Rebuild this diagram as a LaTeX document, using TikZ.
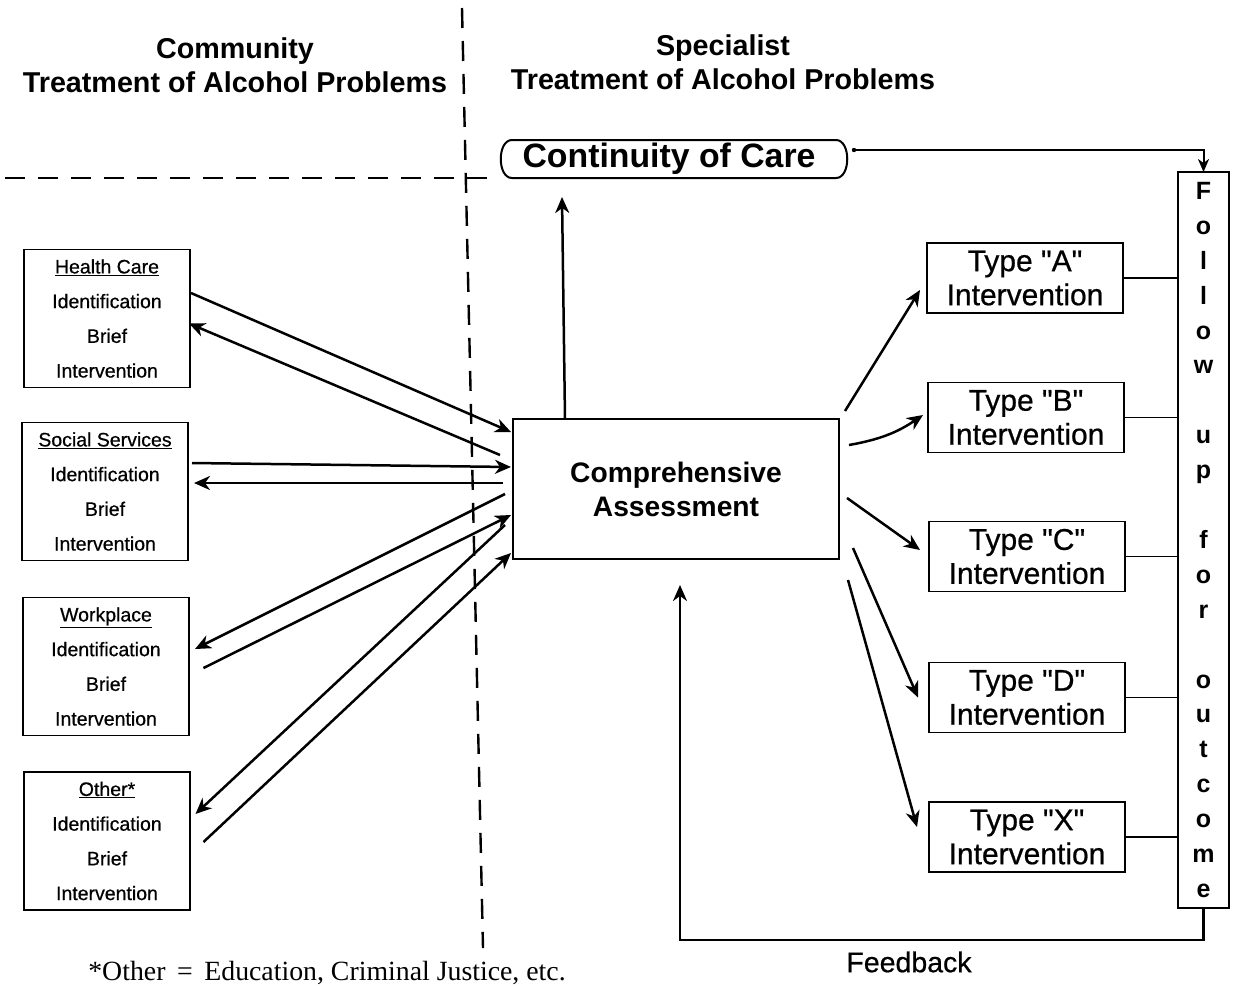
\documentclass[tikz,border=0pt]{standalone}
\usepackage{fontspec}
\setmainfont{Liberation Sans}
\newfontfamily\inksans[FakeBold=0.6]{Liberation Sans}
\newfontfamily\noteserif{Liberation Serif}
\usetikzlibrary{arrows.meta,calc}

\newcommand{\qt}[1]{\symbol{34}#1\symbol{34}}

\begin{document}
\begin{tikzpicture}[x=1pt,y=-1pt,
  every node/.style={inner sep=0pt, outer sep=0pt},
  sourcebox/.style={draw, line width=1.4pt, minimum width=166pt, minimum height=138pt,
    align=center, font=\inksans\fontsize{19.5}{34.7}\selectfont},
  typebox/.style={draw, line width=1.4pt, minimum width=196pt, minimum height=70pt,
    align=center, font=\inksans\fontsize{30}{34}\selectfont},
  link/.style={line width=2.5pt, -{Stealth[length=16pt,width=14pt,inset=5pt]}},
  tie/.style={line width=1.4pt},
  divider/.style={line width=2.4pt, dash pattern=on 20pt off 13pt},
  header/.style={align=center, font=\bfseries\fontsize{28.7}{34}\selectfont}
]
\useasboundingbox (0,0) rectangle (1233,986);

% section headings and dividing lines
\node[header] (hleft) at (235,65) {Community\\Treatment of Alcohol Problems};
\node[header] (hright) at (723,62) {Specialist\\Treatment of Alcohol Problems};
\draw[divider] (462,8) -- (483,948);
\draw[divider] (5,178) -- (497,178);

% community services
\node[sourcebox] (hc) at (107,318.5) {\underline{Health Care}\\Identification\\Brief\\Intervention};
\node[sourcebox] (ss) at (105,491.5) {\underline{Social Services}\\Identification\\Brief\\Intervention};
\node[sourcebox] (wp) at (106,666.5) {\underline{Workplace}\\Identification\\Brief\\Intervention};
\node[sourcebox] (ot) at (107,841) {\underline{Other*}\\Identification\\Brief\\Intervention};

% assessment
\node[draw, line width=1.4pt, minimum width=326pt, minimum height=140pt, align=center,
  font=\bfseries\fontsize{28.2}{34}\selectfont] (ca) at (676,489) {Comprehensive\\Assessment};

% continuity of care
\node[minimum width=348pt, minimum height=38pt, font=\bfseries\fontsize{33.8}{40}\selectfont]
  (coc) at (674,159) {\hspace*{-10pt}Continuity of Care};
\draw[line width=2pt]
  ([xshift=12pt]coc.north west) -- ([xshift=-12pt]coc.north east)
  .. controls ([xshift=3pt]coc.north east) and ([xshift=3pt]coc.south east) ..
  ([xshift=-12pt]coc.south east) -- ([xshift=12pt]coc.south west)
  .. controls ([xshift=-3pt]coc.south west) and ([xshift=-3pt]coc.north west) ..
  cycle;

% interventions
\node[typebox] (ta) at (1025,278)   {Type \qt{A}\\Intervention};
\node[typebox] (tb) at (1026,417.5) {Type \qt{B}\\Intervention};
\node[typebox] (tc) at (1027,556.5) {Type \qt{C}\\Intervention};
\node[typebox] (td) at (1027,697.5) {Type \qt{D}\\Intervention};
\node[typebox] (tx) at (1027,837)   {Type \qt{X}\\Intervention};

% follow up column
\node[draw, line width=1.4pt, minimum width=51pt, minimum height=736pt, align=center,
  font=\bfseries\fontsize{25}{34.9}\selectfont] (fu) at (1203.5,540)
  {F\\o\\l\\l\\o\\w\\\strut\\u\\p\\\strut\\f\\o\\r\\\strut\\o\\u\\t\\c\\o\\m\\e};

% community <-> assessment
\draw[link] ($(hc.east)+(1,-25.5)$) -- ($(ca.west)+(-2,-57)$);
\draw[link] ($(ca.west)+(-13,-34)$) -- ($(hc.east)+(-1,5)$);
\draw[link] ($(ss.east)+(4,-28.5)$) -- ($(ca.west)+(-2,-22)$);
\draw[link] ($(ca.west)+(-10,-6)$) -- ($(ss.east)+(6,-8.5)$);
\draw[link] ($(ca.west)+(-8,5)$) -- ($(wp.east)+(6,-17.5)$);
\draw[link] ($(wp.east)+(14.5,1.5)$) -- ($(ca.west)+(-2,26)$);
\draw[link] ($(ca.west)+(-8,36)$) -- ($(ot.east)+(5.5,-27)$);
\draw[link] ($(ot.east)+(13.5,1)$) -- ($(ca.west)+(-2,64)$);

% assessment -> continuity
\coordinate (cocin) at (562,197);
\draw[link] ([xshift=-111pt]ca.north) -- (cocin);

% assessment -> interventions
\draw[link] ($(ca.east)+(6,-78)$) -- ($(ta.west)+(-7,12)$);
\draw[link] ($(ca.east)+(10,-44)$) to[bend right=12] ($(tb.west)+(-5,-2.5)$);
\draw[link] ($(ca.east)+(8,9)$) -- ($(tc.west)+(-9,-6.5)$);
\draw[link] ($(ca.east)+(14,59)$) -- ($(td.west)+(-11,0)$);
\draw[link] ($(ca.east)+(9,91)$) -- ($(tx.west)+(-12,-10)$);

% interventions -> follow up
\foreach \t in {ta,tb,tc,td,tx}
  \draw[tie] (\t.east) -- (\t.east -| fu.west);

% continuity -> follow up
\fill ([xshift=6pt,yshift=9pt]coc.east) circle (2.2pt);
\draw[line width=2pt, -{Stealth[length=13pt,width=11pt,inset=4pt]}]
  ([xshift=6pt,yshift=9pt]coc.east) -| (fu.north);

% feedback loop
\coordinate (fbtip) at (680,585);
\draw[link] (fu.south) -- ++(0,32) -| (fbtip);
\node[font=\inksans\fontsize{28.5}{30}\selectfont] (fbl) at (909,962) {Feedback};

% footnote
\node[font=\noteserif\fontsize{27.8}{30}\selectfont] (note) at (327,973)
  {*Other \,=\, Education, Criminal Justice, etc.};
\end{tikzpicture}
\end{document}
